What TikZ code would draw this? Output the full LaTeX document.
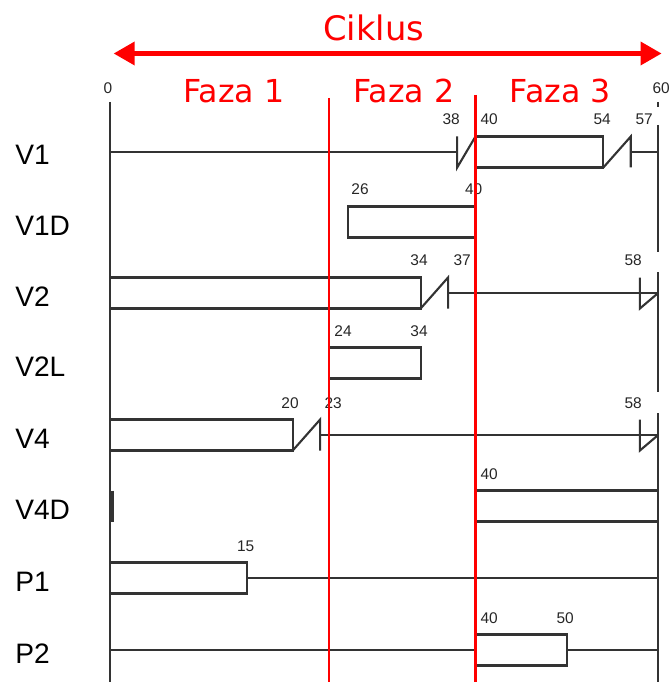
\documentclass[tikz,border=0pt]{standalone}
\usepackage{fontspec}
\setmainfont{Liberation Sans}
\newfontfamily\fazafont{DejaVu Sans}
\usepackage{xcolor}
\usetikzlibrary{arrows.meta}
\definecolor{fazared}{HTML}{FF0000}
\definecolor{sig}{HTML}{333333}
\tikzset{
  sigline/.style={
    line width=1.5pt, color=sig
  },
  sigbox/.style={
    sigline, fill=white
  },
  fazaline/.style={
    line width=1.6pt, draw=fazared
  },
  ciklusarrow/.style={
    {Triangle[length=0.53cm,width=0.56cm]}-{Triangle[length=0.53cm,width=0.56cm]},
    line width=4.2pt, color=fazared
  },
  fazalabel/.style={
    font=\fazafont\fontsize{22.5}{24}\selectfont, text=fazared,
    anchor=base, inner sep=0pt
  },
  rowlabel/.style={
    font=\fontsize{20}{22}\selectfont, anchor=base west, inner sep=0pt
  },
  timelabel/.style={
    font=\fontsize{11}{12}\selectfont, anchor=base, inner sep=0pt,
    text=black!85
  },
}

\begin{document}
\begin{tikzpicture}[x=0.22833cm, y=-0.025cm]
  \useasboundingbox (-12.044,0) rectangle (61.097,682);

  % Cycle
  \node[fazalabel, font=\fazafont\fontsize{24}{26}\selectfont]
    (ciklus) at (28.85,41) {Ciklus};
  \coordinate (cikL) at (0.38,53.5);
  \coordinate (cikR) at (60.39,53.5);
  \draw[ciklusarrow] (cikL) -- (cikR);

  % Phases
  \node[fazalabel] (faza1) at (13.58,103) {Faza 1};
  \node[fazalabel] (faza2) at (32.15,103) {Faza 2};
  \node[fazalabel] (faza3) at (49.27,103) {Faza 3};

  % Time axis
  \draw[sigline] (0,102) -- (0,682);
  \draw[sigline] (60,102) -- (60,107);
  \draw[sigline] (60,125) -- (60,252);
  \draw[sigline] (60,272) -- (60,392);
  \draw[sigline] (60,413) -- (60,682);
  \node[timelabel] (t0) at (-0.22,94) {0};
  \node[timelabel] (t60) at (60.33,94) {60};

  % Signal groups
  \foreach \name/\y in {V1/152,V1D/222,V2/293,V2L/363,V4/435,V4D/506,P1/578,P2/650}
    \node[rowlabel] (row-\name) at (-10.4,\y+13) {\name};

  % V1
  \draw[sigline] (0,152) -- (38,152);
  \draw[sigline] (38,136.5) -- (38,167.5) -- (40,136.5);
  \draw[sigbox] (40,136.5) rectangle (54,167.5);
  \draw[sigline] (54,167.5) -- (57,136.5) -- (57,167.5);
  \draw[sigline] (57,152) -- (60,152);
  \node[timelabel] (v1-38) at (37.34,125) {38};
  \node[timelabel] (v1-40) at (41.50,125) {40};
  \node[timelabel] (v1-54) at (53.87,125) {54};
  \node[timelabel] (v1-57) at (58.47,125) {57};

  % V1D
  \draw[sigbox] (26,206.5) rectangle (40,237.5);
  \node[timelabel] (v1d-26) at (27.37,195) {26};
  \node[timelabel] (v1d-40) at (39.80,195) {40};

  % V2
  \draw[sigbox] (0,277.5) rectangle (34,308.5);
  \draw[sigline] (34,308.5) -- (37,277.5) -- (37,308.5);
  \draw[sigline] (37,293) -- (60,293);
  \draw[sigline] (58,277.5) -- (58,308.5) -- (60,293);
  \node[timelabel] (v2-34) at (33.83,265) {34};
  \node[timelabel] (v2-37) at (38.54,265) {37};
  \node[timelabel] (v2-58) at (57.26,265) {58};

  % V2L
  \draw[sigbox] (24,347.5) rectangle (34,378.5);
  \node[timelabel] (v2l-24) at (25.51,336) {24};
  \node[timelabel] (v2l-34) at (33.83,336) {34};

  % V4
  \draw[sigbox] (0,419.5) rectangle (20,450.5);
  \draw[sigline] (20,450.5) -- (23,419.5) -- (23,450.5);
  \draw[sigline] (23,435) -- (60,435);
  \draw[sigline] (58,419.5) -- (58,450.5) -- (60,435);
  \node[timelabel] (v4-20) at (19.71,408) {20};
  \node[timelabel] (v4-23) at (24.42,408) {23};
  \node[timelabel] (v4-58) at (57.26,408) {58};

  % V4D
  \draw[sigline, line width=3pt] (0.25,490.5) -- (0.25,521.5);
  \draw[sigbox] (40,490.5) rectangle (60,521.5);
  \node[timelabel] (v4d-40) at (41.50,479) {40};

  % P1
  \draw[sigbox] (0,562.5) rectangle (15,593.5);
  \draw[sigline] (15,578) -- (60,578);
  \node[timelabel] (p1-15) at (14.84,551) {15};

  % P2
  \draw[sigline] (0,650) -- (40,650);
  \draw[sigbox] (40,634.5) rectangle (50,665.5);
  \draw[sigline] (50,650) -- (60,650);
  \node[timelabel] (p2-40) at (41.50,623) {40};
  \node[timelabel] (p2-50) at (49.82,623) {50};

  % Phase borders
  \draw[fazaline] (24,98) -- (24,682);
  \draw[fazaline] (40,95) -- (40,682);
\end{tikzpicture}
\end{document}
